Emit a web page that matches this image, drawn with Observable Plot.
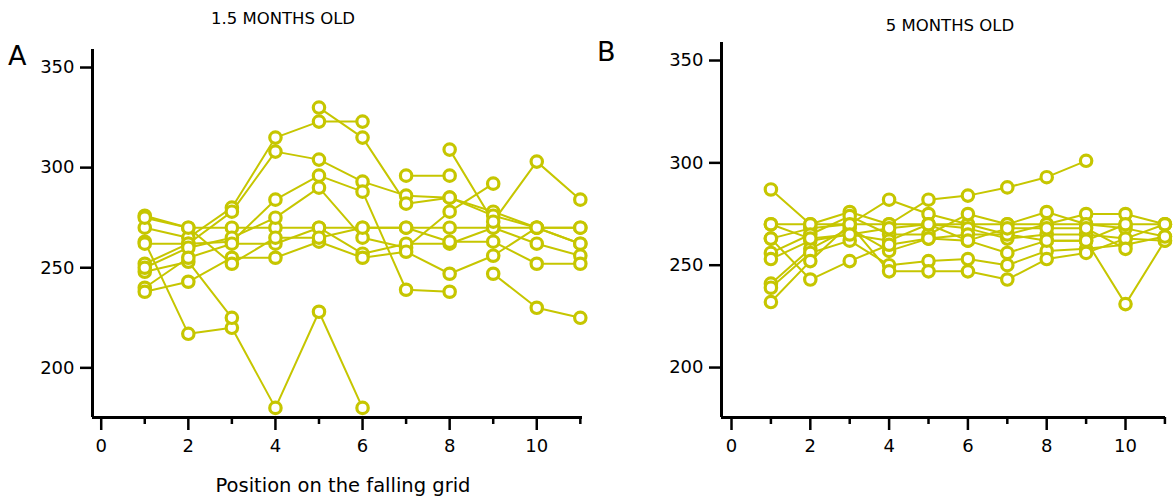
<!DOCTYPE html>
<html>
<head>
<meta charset="utf-8">
<script src="https://cdn.jsdelivr.net/npm/d3@7"></script>
<script src="https://cdn.jsdelivr.net/npm/@observablehq/plot@0.6"></script>
<style>
  html, body { margin: 0; padding: 0; background: #fff; }
  #wrap { position: relative; width: 1175px; height: 504px; overflow: hidden; font-family: "DejaVu Sans", sans-serif; color: #000; }
  .panel { position: absolute; top: 0; }
  .txt { position: absolute; white-space: nowrap; line-height: 1; }
</style>
</head>
<body>
<div id="wrap">
  <div class="panel" id="pa" style="left:0px"></div>
  <div class="panel" id="pb" style="left:600px"></div>
  <div class="txt" id="letterA" style="left:8px; top:42px; font-size:27px;">A</div>
  <div class="txt" id="letterB" style="left:597px; top:38px; font-size:27px;">B</div>
  <div class="txt" id="titleA" style="left:283px; top:11px; font-size:16.5px; transform:translateX(-50%);">1.5 MONTHS OLD</div>
  <div class="txt" id="titleB" style="left:950px; top:18px; font-size:16.5px; transform:translateX(-50%);">5 MONTHS OLD</div>
  <div class="txt" id="xlabA" style="left:343px; top:476px; font-size:19.5px; transform:translateX(-50%);">Position on the falling grid</div>
</div>
<script>
// Positions on the falling grid (x values)
const positions = [1, 2, 3, 4, 5, 6, 7, 8, 9, 10, 11];
const majorTicksX = [0, 2, 4, 6, 8, 10];
const minorTicksX = [1, 3, 5, 7, 9, 11];
const ticksY = [200, 250, 300, 350];

// Panel A: 1.5 months old — one row per animal (null = no point)
const youngRows = [
  [263, 217, 220, 180, 228, 180, null, null, null, null, null],
  [248, 253, 225, null, null, null, null, null, null, null, null],
  [276, 270, 270, 270, 270, 270, 270, 270, 270, 270, 270],
  [270, 265, 280, 315, 323, 323, null, null, null, null, null],
  [262, 262, 278, 308, 304, 293, 286, 285, 278, 270, 270],
  [252, 262, 263, 284, 296, 288, 239, 238, null, null, null],
  [null, null, null, null, 330, 315, 282, 285, 276, 270, 262],
  [250, 260, 265, 275, 290, 265, 260, 278, 292, null, null],
  [240, 255, 262, 262, 270, 257, 262, 262, 270, 262, 256],
  [238, 243, 255, 255, 263, 255, 258, 247, 256, 270, 262],
  [null, null, null, null, null, null, 296, 296, null, null, null],
  [null, null, null, null, null, null, null, 309, 273, 303, 284],
  [null, null, null, null, null, null, null, null, 247, 230, 225],
  [275, 270, 252, 265, 265, 270, 270, 263, 263, 252, 252]
];

// Panel B: 5 months old — one row per animal
const oldRows = [
  [287, 270, 270, 270, 270, 270, 270, 270, 270, 270, 270],
  [263, 268, 270, 282, 275, 270, 265, 270, 275, 275, 270],
  [270, 270, 276, 270, 282, 284, 288, 293, 301, null, null],
  [256, 265, 274, 265, 265, 275, 270, 276, 270, 268, 264],
  [253, 262, 265, 262, 270, 268, 263, 265, 265, 263, 262],
  [241, 258, 268, 257, 263, 262, 256, 262, 262, 231, 262],
  [239, 256, 262, 250, 252, 253, 250, 257, 258, 260, 264],
  [232, 252, 270, 247, 247, 247, 243, 253, 256, 263, 270],
  [263, 243, 252, 260, 263, 265, 265, 262, 262, 270, null],
  [270, 263, 265, 268, 270, 262, 268, 268, 268, 258, null]
];

const ink = "#c6c600";

function toLong(rows) {
  const out = [];
  rows.forEach((row, i) => row.forEach((v, j) => {
    if (v != null) out.push({id: i, pos: positions[j], val: v});
  }));
  return out;
}

function panel(rows, cfg) {
  const data = toLong(rows);
  return Plot.plot({
    width: cfg.width, height: 504,
    marginLeft: cfg.ml, marginRight: cfg.mr, marginTop: cfg.mt, marginBottom: 87,
    x: {domain: cfg.xd, label: null},
    y: {domain: cfg.yd, label: null},
    style: {fontFamily: "DejaVu Sans, sans-serif", fontSize: "18px", color: "#000", background: "transparent", overflow: "visible"},
    marks: [
      Plot.axisX(majorTicksX, {tickSize: 13, tickPadding: 9, strokeWidth: 2.5, label: null, fontSize: 18}),
      Plot.axisX(minorTicksX, {tickSize: 7, text: null, strokeWidth: 2.5, label: null}),
      Plot.axisY(ticksY, {tickSize: 12, tickPadding: 6, strokeWidth: 2.5, label: null, fontSize: 18}),
      Plot.ruleX([cfg.xd[0]], {stroke: "#000", strokeWidth: 3}),
      Plot.ruleY([cfg.yd[0]], {stroke: "#000", strokeWidth: 3}),
      Plot.line(data, {x: "pos", y: "val", z: "id", stroke: ink, strokeWidth: 2}),
      Plot.dot(data, {x: "pos", y: "val", r: 5.7, stroke: ink, strokeWidth: 3.2, fill: "white"})
    ]
  });
}

document.getElementById("pa").append(panel(youngRows, {width: 600, ml: 92, mr: 18, mt: 49, xd: [-0.2, 11.05], yd: [175.2, 359]}));
document.getElementById("pb").append(panel(oldRows, {width: 575, ml: 121, mr: 10, mt: 42, xd: [-0.254, 11.015], yd: [175.6, 358.8]}));
</script>
</body>
</html>
